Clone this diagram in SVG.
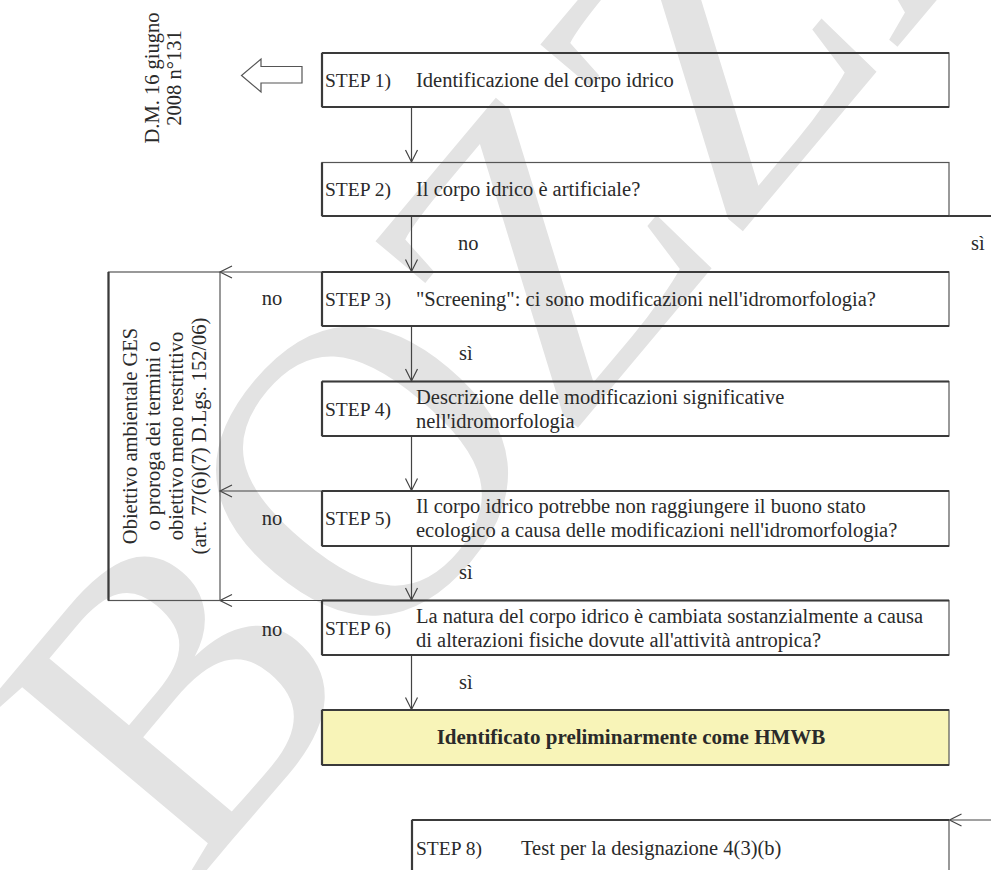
<svg xmlns="http://www.w3.org/2000/svg" width="991" height="870" viewBox="0 0 991 870">
<defs>
<style>
.t{font-family:"Liberation Serif","Times New Roman",serif;font-size:20.5px;fill:#2a2a2a}
.s{font-size:19.5px}
.b{font-weight:bold;font-size:21px}
.box{fill:none;stroke:#555;stroke-width:1.2}
.edge{stroke:#3a3a3a;stroke-width:2.2}
.c{fill:none;stroke:#444;stroke-width:1.2}
.wm{font-family:"Liberation Serif","Times New Roman",serif;font-size:420px;fill:#e3e3e3}
</style>
<marker id="ah" markerWidth="16" markerHeight="16" refX="13" refY="7" orient="auto" markerUnits="userSpaceOnUse">
<path d="M1,1 L13,7 L1,13" fill="none" stroke="#444" stroke-width="1.2"/>
</marker>
</defs>
<rect width="991" height="870" fill="#fff"/>
<text class="wm" transform="translate(190,890) rotate(-50)">BOZZA</text>

<g id="dm">
<text class="t" text-anchor="middle" transform="translate(159,78) rotate(-90)">D.M. 16 giugno</text>
<text class="t" text-anchor="middle" transform="translate(181,78) rotate(-90)">2008 n°131</text>
<polygon points="302,66.5 261,66.5 261,59 241.5,75.5 261,92 261,83 302,83" fill="#fff" stroke="#555" stroke-width="1.2"/>
</g>

<g id="connectors">
<line class="c" x1="411.5" y1="107" x2="411.5" y2="162" marker-end="url(#ah)"/>
<line class="c" x1="411.5" y1="216" x2="411.5" y2="271.5" marker-end="url(#ah)"/>
<line class="c" x1="411.5" y1="326" x2="411.5" y2="381" marker-end="url(#ah)"/>
<line class="c" x1="411.5" y1="436" x2="411.5" y2="490.5" marker-end="url(#ah)"/>
<line class="c" x1="411.5" y1="546" x2="411.5" y2="600" marker-end="url(#ah)"/>
<line class="c" x1="411.5" y1="655" x2="411.5" y2="709.5" marker-end="url(#ah)"/>
<line class="c" x1="322" y1="272" x2="220" y2="272" marker-end="url(#ah)"/>
<line class="c" x1="322" y1="491" x2="220" y2="491" marker-end="url(#ah)"/>
<line class="c" x1="322" y1="600.5" x2="220" y2="600.5" marker-end="url(#ah)"/>
<line class="edge" x1="949" y1="216" x2="991" y2="216"/>
<line class="c" x1="991" y1="820" x2="949.5" y2="820" marker-end="url(#ah)"/>
<text class="t" x="458" y="250">no</text>
<text class="t" x="971" y="250">sì</text>
<text class="t" x="459" y="360">sì</text>
<text class="t" x="459" y="579">sì</text>
<text class="t" x="459" y="689">sì</text>
<text class="t" x="272" y="305" text-anchor="middle">no</text>
<text class="t" x="272" y="525" text-anchor="middle">no</text>
<text class="t" x="272" y="636" text-anchor="middle">no</text>
</g>

<g id="objective">
<rect class="box" x="108.5" y="272" width="111.5" height="328.5"/>
<line class="edge" x1="108.5" y1="272" x2="108.5" y2="600.5"/>
<text class="t" text-anchor="middle" transform="translate(137,436) rotate(-90)">Obiettivo ambientale GES</text>
<text class="t" text-anchor="middle" transform="translate(160,436) rotate(-90)">o proroga dei termini o</text>
<text class="t" text-anchor="middle" transform="translate(183,436) rotate(-90)">obiettivo meno restrittivo</text>
<text class="t" text-anchor="middle" transform="translate(206,436) rotate(-90)">(art. 77(6)(7) D.Lgs. 152/06)</text>
</g>

<g id="step1">
<rect class="box" x="322" y="53" width="627" height="54"/>
<line class="edge" x1="322" y1="53" x2="949" y2="53"/>
<line class="edge" x1="322" y1="107" x2="949" y2="107"/>
<line class="edge" x1="322" y1="53" x2="322" y2="107"/>
<text class="t s" x="325" y="87">STEP 1)</text>
<text class="t" x="416" y="87">Identificazione del corpo idrico</text>
</g>

<g id="step2">
<rect class="box" x="322" y="162.5" width="627" height="53.5"/>
<line class="edge" x1="322" y1="216" x2="949" y2="216"/>
<line class="edge" x1="322" y1="162.5" x2="322" y2="216"/>
<text class="t s" x="325" y="196">STEP 2)</text>
<text class="t" x="416" y="196">Il corpo idrico è artificiale?</text>
</g>

<g id="step3">
<rect class="box" x="322" y="272" width="627" height="54"/>
<line class="edge" x1="322" y1="272" x2="949" y2="272"/>
<line class="edge" x1="322" y1="326" x2="949" y2="326"/>
<line class="edge" x1="322" y1="272" x2="322" y2="326"/>
<text class="t s" x="325" y="306">STEP 3)</text>
<text class="t" x="416" y="306">"Screening": ci sono modificazioni nell'idromorfologia?</text>
</g>

<g id="step4">
<rect class="box" x="322" y="381.5" width="627" height="54.5"/>
<line class="edge" x1="322" y1="381.5" x2="949" y2="381.5"/>
<line class="edge" x1="322" y1="436" x2="949" y2="436"/>
<line class="edge" x1="322" y1="381.5" x2="322" y2="436"/>
<text class="t s" x="325" y="416">STEP 4)</text>
<text class="t" x="416" y="404">Descrizione delle modificazioni significative</text>
<text class="t" x="416" y="428">nell'idromorfologia</text>
</g>

<g id="step5">
<rect class="box" x="322" y="491" width="627" height="55"/>
<line class="edge" x1="322" y1="491" x2="949" y2="491"/>
<line class="edge" x1="322" y1="546" x2="949" y2="546"/>
<line class="edge" x1="322" y1="491" x2="322" y2="546"/>
<text class="t s" x="325" y="525">STEP 5)</text>
<text class="t" x="416" y="513">Il corpo idrico potrebbe non raggiungere il buono stato</text>
<text class="t" x="416" y="537">ecologico a causa delle modificazioni nell'idromorfologia?</text>
</g>

<g id="step6">
<rect class="box" x="322" y="600.5" width="627" height="54.5"/>
<line class="edge" x1="322" y1="600.5" x2="949" y2="600.5"/>
<line class="edge" x1="322" y1="655" x2="949" y2="655"/>
<line class="edge" x1="322" y1="600.5" x2="322" y2="655"/>
<text class="t s" x="325" y="635">STEP 6)</text>
<text class="t" x="416" y="623">La natura del corpo idrico è cambiata sostanzialmente a causa</text>
<text class="t" x="416" y="647">di alterazioni fisiche dovute all'attività antropica?</text>
</g>

<g id="hmwb">
<rect x="322" y="710" width="627" height="55" fill="#f8f4b8" stroke="#555" stroke-width="1.2"/>
<line class="edge" x1="322" y1="710" x2="949" y2="710"/>
<line class="edge" x1="322" y1="765" x2="949" y2="765"/>
<line class="edge" x1="322" y1="710" x2="322" y2="765"/>
<text class="t b" x="631" y="744" text-anchor="middle">Identificato preliminarmente come HMWB</text>
</g>

<g id="step8">
<path class="box" d="M412,875 V820 H949 V875"/>
<line class="edge" x1="412" y1="820" x2="949" y2="820"/>
<line class="edge" x1="412" y1="820" x2="412" y2="875"/>
<text class="t s" x="416" y="855">STEP 8)</text>
<text class="t" x="521" y="855">Test per la designazione 4(3)(b)</text>
</g>
</svg>
